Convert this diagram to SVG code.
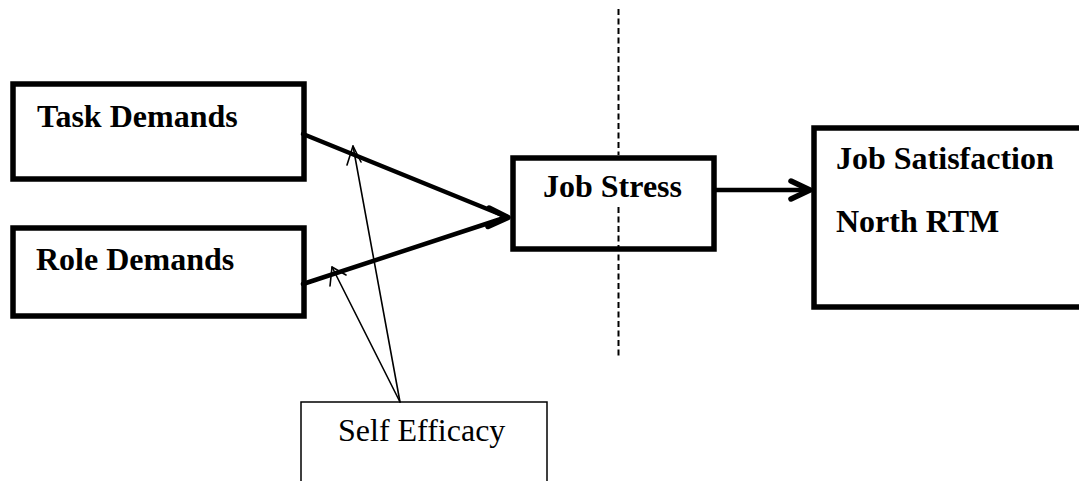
<svg xmlns="http://www.w3.org/2000/svg" width="1079" height="481" viewBox="0 0 1079 481">
  <style>
    .box { fill: #ffffff; stroke: #000000; stroke-width: 5.5; }
    .thinbox { fill: #ffffff; stroke: #000000; stroke-width: 1.5; }
    .lbl { font-family: "Liberation Serif", "Times New Roman", serif; font-size: 32px; font-weight: bold; fill: #000000; }
    .lblr { font-family: "Liberation Serif", "Times New Roman", serif; font-size: 32px; fill: #000000; }
    .thick { stroke: #000000; stroke-width: 4.5; fill: none; stroke-linecap: round; stroke-linejoin: round; }
    .head { stroke: #000000; stroke-width: 5.5; fill: none; stroke-linecap: round; stroke-linejoin: round; }
    .thin { stroke: #000000; stroke-width: 1.6; fill: none; stroke-linecap: round; stroke-linejoin: round; }
    .dash { stroke: #000000; stroke-width: 2; stroke-dasharray: 6 3.5; fill: none; }
  </style>
  <rect width="1079" height="481" fill="#ffffff"/>

  <g id="task-demands">
    <rect class="box" x="13" y="84" width="291" height="95"/>
    <text class="lbl" x="37" y="127">Task Demands</text>
  </g>
  <g id="role-demands">
    <rect class="box" x="13" y="228" width="291" height="88"/>
    <text class="lbl" x="36" y="270">Role Demands</text>
  </g>
  <g id="job-stress">
    <rect class="box" x="513" y="158" width="201" height="91"/>
    <text class="lbl" x="543" y="197">Job Stress</text>
  </g>
  <g id="job-satisfaction">
    <rect class="box" x="814" y="128" width="275" height="179"/>
    <text class="lbl" x="836" y="169">Job Satisfaction</text>
    <text class="lbl" x="836" y="232">North RTM</text>
  </g>
  <g id="self-efficacy">
    <rect class="thinbox" x="301" y="402" width="246" height="100"/>
    <text class="lblr" x="338" y="441">Self Efficacy</text>
  </g>

  <g id="divider">
    <line class="dash" x1="618.5" y1="9" x2="618.5" y2="155"/>
    <line class="dash" x1="618.5" y1="207" x2="618.5" y2="356"/>
  </g>

  <g id="connectors">
    <line class="thick" x1="303" y1="134" x2="507" y2="217"/>
    <line class="thick" x1="303" y1="284" x2="507" y2="217"/>
    <polyline class="head" points="489,208 508,217.5 488,226.5"/>
    <line class="thick" x1="716" y1="190" x2="809" y2="190"/>
    <polyline class="head" points="791,181 810,190 791,199"/>
    <line class="thin" x1="400" y1="402" x2="353" y2="146"/>
    <polyline class="thin" points="347,165 353,146 361,162"/>
    <line class="thin" x1="400" y1="402" x2="332" y2="267"/>
    <polyline class="thin" points="330,286 332,267 346,275"/>
  </g>
</svg>
